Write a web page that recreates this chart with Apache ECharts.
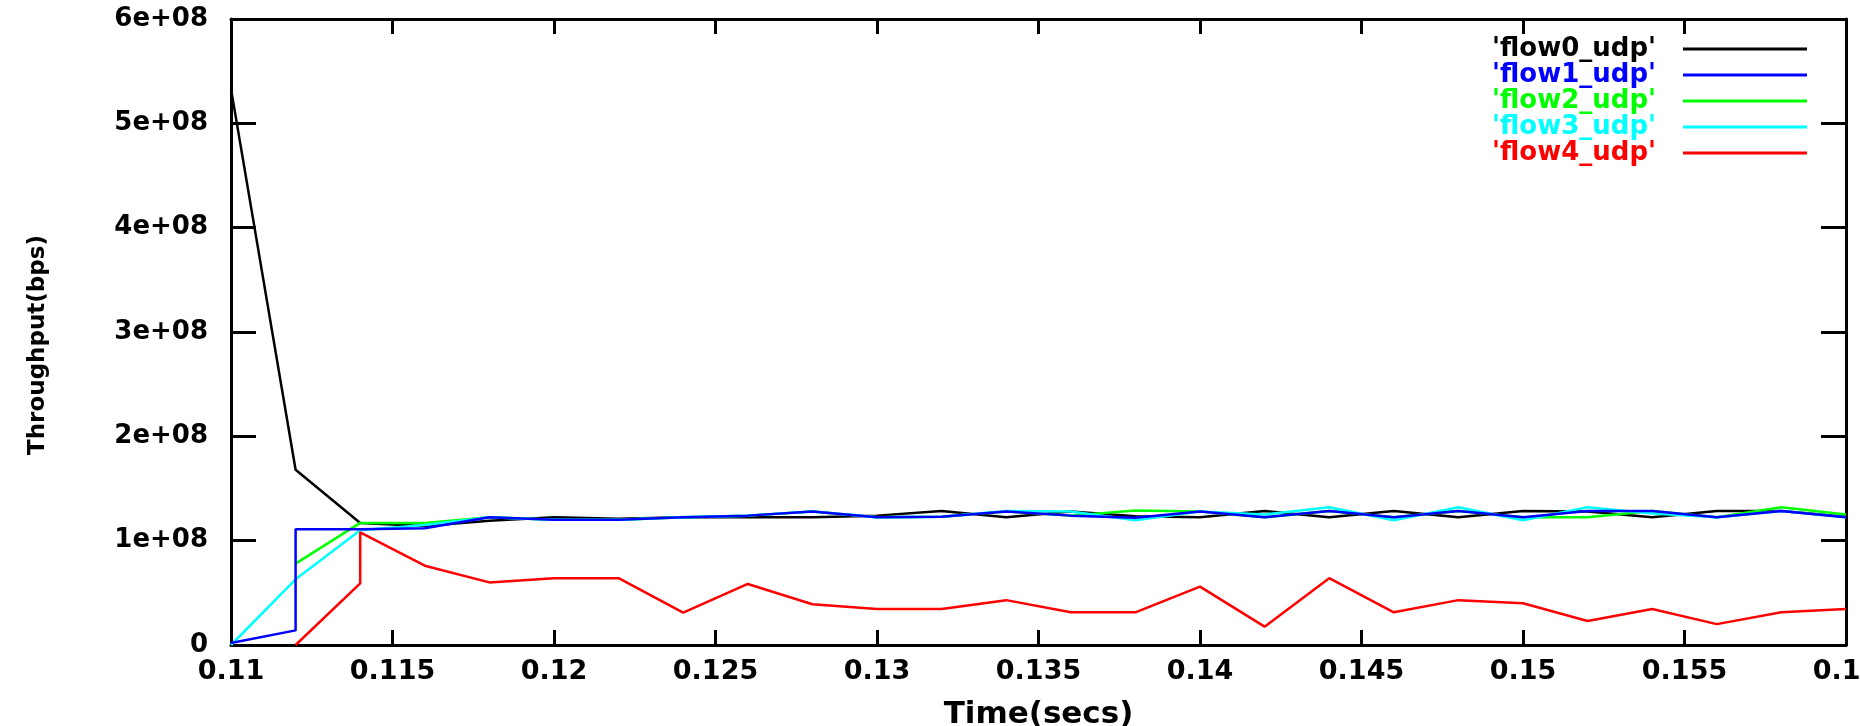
<!DOCTYPE html>
<html>
<head>
<meta charset="utf-8">
<script src="https://cdn.jsdelivr.net/npm/echarts@6/dist/echarts.min.js"></script>
<style>
html,body{margin:0;padding:0;background:#ffffff;}
#chart{width:1860px;height:726px;}
</style>
</head>
<body>
<div id="chart"></div>
<script>
// ---- tick labels ----
const xTickLabels = ['0.11','0.115','0.12','0.125','0.13','0.135','0.14','0.145','0.15','0.155','0.16'];
const yTickLabels = ['0','1e+08','2e+08','3e+08','4e+08','5e+08','6e+08'];

// ---- series names ----
const seriesNames = ["'flow0_udp'","'flow1_udp'","'flow2_udp'","'flow3_udp'","'flow4_udp'"];
const seriesColors = ['#000000','#0000ff','#00ff00','#00ffff','#ff0000'];

// ---- data (time in s, throughput in bps) ----
const flow0Time = [0.110,0.112,0.114,0.116,0.118,0.120,0.122,0.124,0.126,0.128,0.130,0.132,0.134,0.136,0.138,0.140,0.142,0.144,0.146,0.148,0.150,0.152,0.154,0.156,0.158,0.160];
const flow0Val  = [5.33e8,1.68e8,1.17e8,1.14e8,1.19e8,1.225e8,1.21e8,1.225e8,1.225e8,1.225e8,1.24e8,1.285e8,1.225e8,1.28e8,1.235e8,1.225e8,1.285e8,1.225e8,1.285e8,1.225e8,1.285e8,1.28e8,1.225e8,1.285e8,1.285e8,1.23e8];

const flow1Time = [0.110,0.112,0.112,0.114,0.116,0.118,0.120,0.122,0.124,0.126,0.128,0.130,0.132,0.134,0.136,0.138,0.140,0.142,0.144,0.146,0.148,0.150,0.152,0.154,0.156,0.158,0.160];
const flow1Val  = [0.02e8,0.14e8,1.11e8,1.11e8,1.12e8,1.225e8,1.20e8,1.20e8,1.225e8,1.24e8,1.28e8,1.225e8,1.23e8,1.28e8,1.24e8,1.22e8,1.28e8,1.225e8,1.285e8,1.225e8,1.285e8,1.225e8,1.285e8,1.285e8,1.225e8,1.285e8,1.225e8];

const flow2Time = [0.112,0.114,0.116,0.118,0.120,0.122,0.124,0.126,0.128,0.130,0.132,0.134,0.136,0.138,0.140,0.142,0.144,0.146,0.148,0.150,0.152,0.154,0.156,0.158,0.160];
const flow2Val  = [0.78e8,1.17e8,1.17e8,1.225e8,1.20e8,1.20e8,1.225e8,1.24e8,1.28e8,1.225e8,1.23e8,1.28e8,1.24e8,1.29e8,1.28e8,1.225e8,1.285e8,1.225e8,1.285e8,1.225e8,1.225e8,1.285e8,1.225e8,1.32e8,1.25e8];

const flow3Time = [0.110,0.112,0.114,0.116,0.118,0.120,0.122,0.124,0.126,0.128,0.130,0.132,0.134,0.136,0.138,0.140,0.142,0.144,0.146,0.148,0.150,0.152,0.154,0.156,0.158,0.160];
const flow3Val  = [0.0,0.63e8,1.10e8,1.15e8,1.225e8,1.20e8,1.20e8,1.225e8,1.24e8,1.28e8,1.225e8,1.23e8,1.285e8,1.28e8,1.195e8,1.28e8,1.25e8,1.32e8,1.195e8,1.32e8,1.195e8,1.32e8,1.26e8,1.225e8,1.285e8,1.225e8];

const flow4Time = [0.112,0.114,0.114,0.116,0.118,0.120,0.122,0.124,0.126,0.128,0.130,0.132,0.134,0.136,0.138,0.140,0.142,0.144,0.146,0.148,0.150,0.152,0.154,0.156,0.158,0.160];
const flow4Val  = [0.0,0.59e8,1.08e8,0.76e8,0.60e8,0.64e8,0.64e8,0.31e8,0.585e8,0.39e8,0.345e8,0.345e8,0.43e8,0.313e8,0.313e8,0.56e8,0.176e8,0.64e8,0.313e8,0.43e8,0.40e8,0.23e8,0.345e8,0.20e8,0.313e8,0.345e8];

const seriesTimes = [flow0Time, flow1Time, flow2Time, flow3Time, flow4Time];
const seriesVals  = [flow0Val, flow1Val, flow2Val, flow3Val, flow4Val];
const seriesZ     = [1, 4, 2, 3, 5];

const X_MIN = 0.11, X_MAX = 0.16, X_STEP = 0.005;
const Y_MIN = 0, Y_MAX = 6e8, Y_STEP = 1e8;

const FONT = 'DejaVu Sans';

function xLabel(v){ const i = Math.round((v - X_MIN) / X_STEP); return xTickLabels[i] !== undefined ? xTickLabels[i] : ''; }
function yLabel(v){ const i = Math.round((v - Y_MIN) / Y_STEP); return yTickLabels[i] !== undefined ? yTickLabels[i] : ''; }

const axisLine = { show: true, onZero: false, lineStyle: { color: '#000', width: 3 } };

const series = seriesNames.map((name, k) => ({
  name: name,
  type: 'line',
  xAxisIndex: 0,
  yAxisIndex: 0,
  data: seriesTimes[k].map((t, i) => [t, seriesVals[k][i]]),
  symbol: 'none',
  showSymbol: false,
  z: seriesZ[k],
  lineStyle: { color: seriesColors[k], width: 2.5 },
  itemStyle: { color: seriesColors[k] },
  emphasis: { disabled: true },
  animation: false
}));

const chart = echarts.init(document.getElementById('chart'), null, { renderer: 'canvas' });
chart.setOption({
  backgroundColor: '#ffffff',
  animation: false,
  grid: { left: 231, right: 14, top: 19, bottom: 81, containLabel: false, outerBoundsMode: 'none' },
  legend: {
    right: 48,
    top: 31,
    orient: 'vertical',
    align: 'right',
    icon: 'rect',
    itemWidth: 124,
    itemHeight: 3,
    itemGap: 0,
    selectedMode: false,
    textStyle: { fontFamily: FONT, fontWeight: 'bold', fontSize: 26, lineHeight: 25, padding: [0, 22, 0, 0] },
    data: seriesNames.map((n, k) => ({ name: n, textStyle: { color: seriesColors[k] } }))
  },
  xAxis: [
    {
      type: 'value', position: 'bottom', min: X_MIN, max: X_MAX, interval: X_STEP,
      name: 'Time(secs)', nameLocation: 'middle', nameGap: 54,
      nameTextStyle: { fontFamily: FONT, fontWeight: 'bold', fontSize: 31, color: '#000' },
      axisLine: axisLine,
      axisTick: { show: true, inside: true, length: 15, lineStyle: { color: '#000', width: 3 } },
      axisLabel: { show: true, formatter: xLabel, margin: 13, fontFamily: FONT, fontWeight: 'bold', fontSize: 27, color: '#000', showMinLabel: true, showMaxLabel: true, hideOverlap: false },
      splitLine: { show: false }
    },
    {
      type: 'value', position: 'top', min: X_MIN, max: X_MAX, interval: X_STEP,
      axisLine: axisLine,
      axisTick: { show: true, inside: true, length: 15, lineStyle: { color: '#000', width: 3 } },
      axisLabel: { show: false },
      splitLine: { show: false }
    }
  ],
  yAxis: [
    {
      type: 'value', position: 'left', min: Y_MIN, max: Y_MAX, interval: Y_STEP,
      name: 'Throughput(bps)', nameLocation: 'middle', nameGap: 181,
      nameTextStyle: { fontFamily: FONT, fontWeight: 'bold', fontSize: 23, color: '#000', padding: [0, 26, 0, 0] },
      axisLine: axisLine,
      axisTick: { show: true, inside: true, length: 25, lineStyle: { color: '#000', width: 3 } },
      axisLabel: { show: true, formatter: yLabel, margin: 23, fontFamily: FONT, fontWeight: 'bold', fontSize: 26, color: '#000', showMinLabel: true, showMaxLabel: true },
      splitLine: { show: false }
    },
    {
      type: 'value', position: 'right', min: Y_MIN, max: Y_MAX, interval: Y_STEP,
      axisLine: axisLine,
      axisTick: { show: true, inside: true, length: 25, lineStyle: { color: '#000', width: 3 } },
      axisLabel: { show: false },
      splitLine: { show: false }
    }
  ],
  series: series
});
</script>
</body>
</html>
